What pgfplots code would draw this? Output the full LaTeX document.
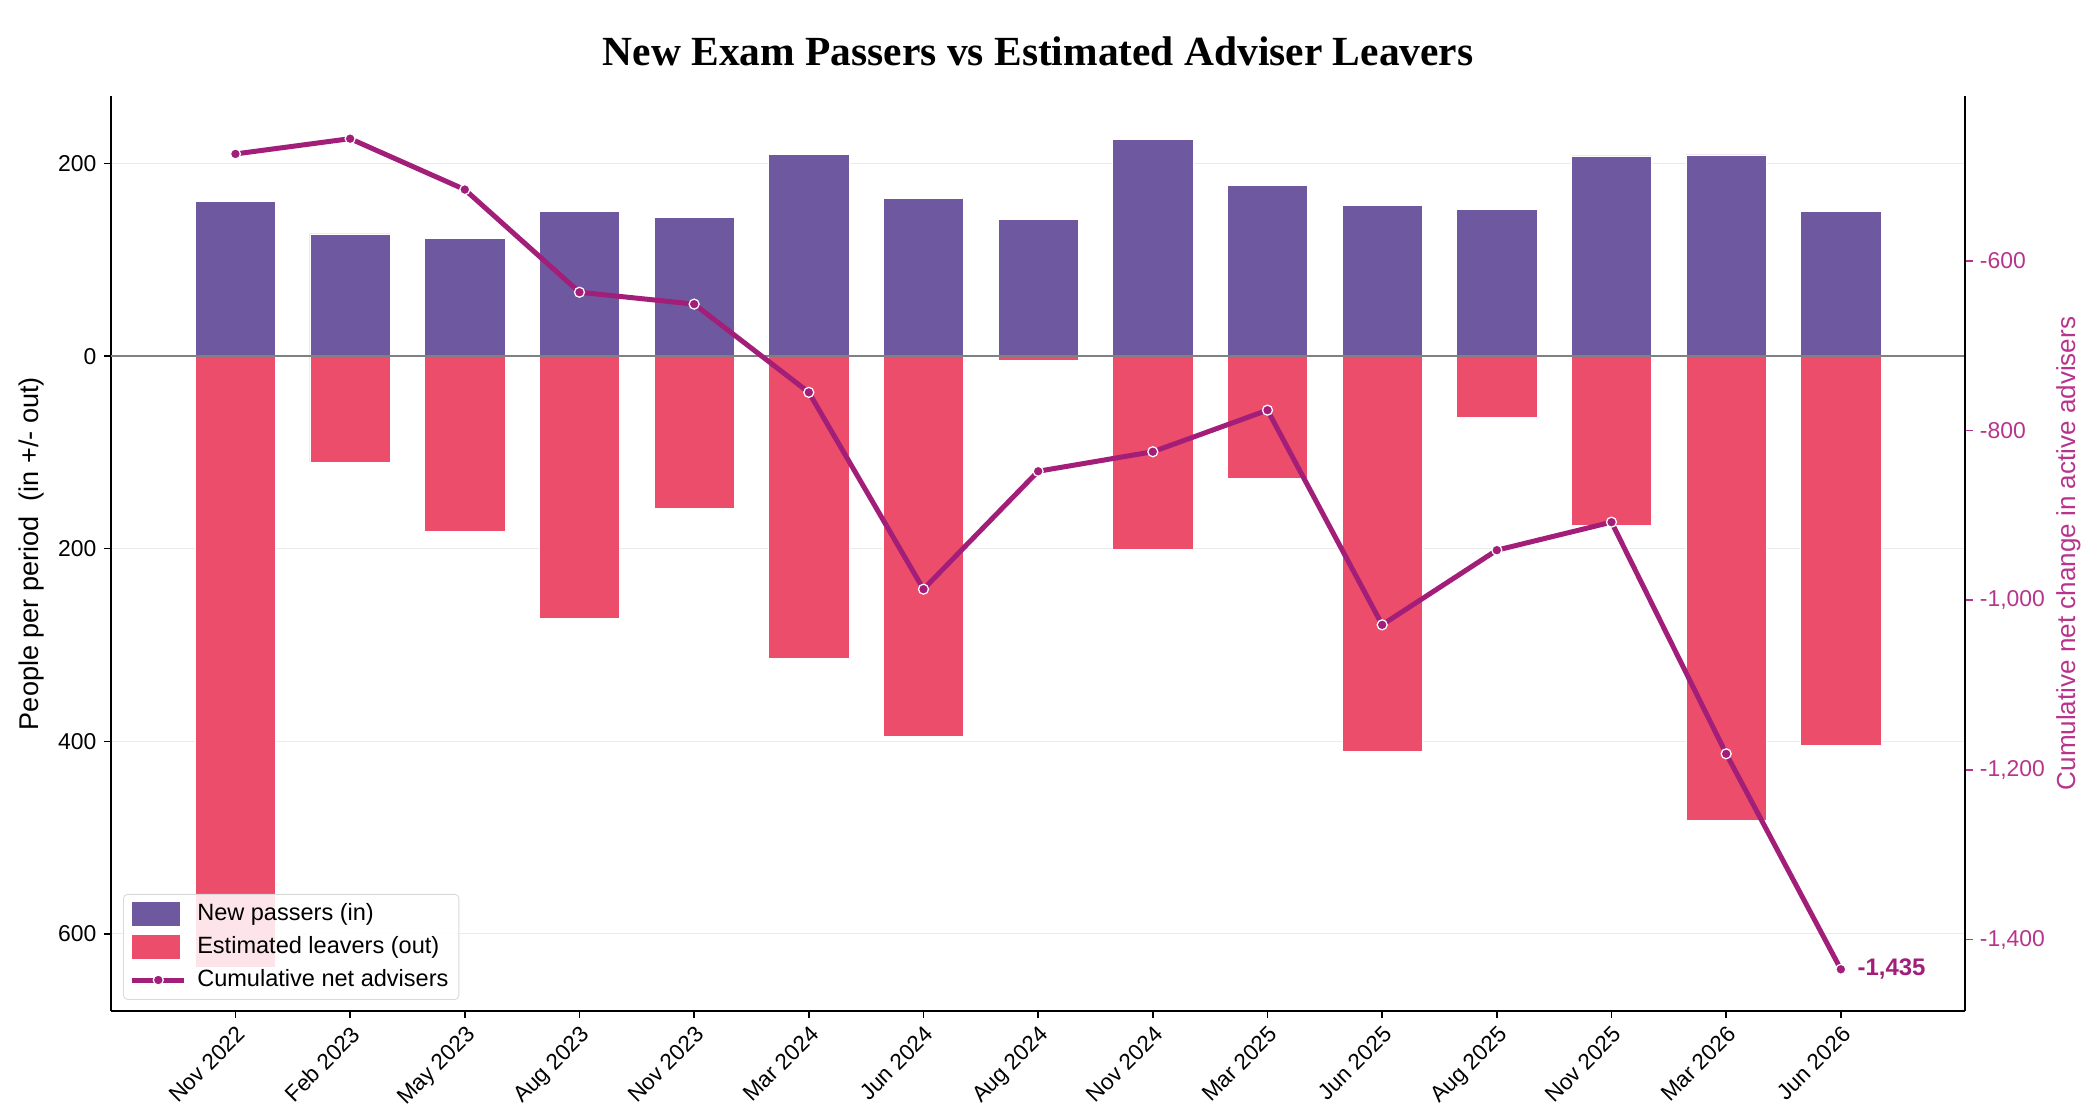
\documentclass[border=0pt]{standalone}
\usepackage{pgfplots}
\pgfplotsset{compat=1.18}
\usepackage{fontspec}
\setmainfont{Liberation Sans}
\newfontfamily\titlefont{Liberation Serif}
\definecolor{passers}{HTML}{6E59A0}
\definecolor{leavers}{HTML}{EC4D6A}
\definecolor{cum}{HTML}{A21E78}
\definecolor{cumtext}{HTML}{B8348C}
\definecolor{gridc}{HTML}{EBEBEB}
\pgfplotsset{
  cumleg/.style={legend image code/.code={\draw[mark repeat=2, mark phase=2, ##1, sharp corners, fill opacity=1, draw opacity=1] plot coordinates {(0pt,0pt) (12.5pt,0pt) (25pt,0pt)};}},
  passleg/.style={legend image code/.code={\fill[passers, sharp corners, fill opacity=1] (0pt,-5.5pt) rectangle (22.5pt,5.5pt);}},
  leavleg/.style={legend image code/.code={\fill[leavers, sharp corners, fill opacity=1] (0pt,-5.5pt) rectangle (22.5pt,5.5pt);}},
}
\begin{document}
\begin{tikzpicture}
\useasboundingbox (-53.3pt,-51.4pt) rectangle (951.8pt,485.2pt);
% ---------- left axis: bars ----------
\begin{axis}[
  at={(0,0)}, anchor=south west, scale only axis,
  width=890pt, height=439pt,
  xmin=-1.085, xmax=15.085, ymin=-680, ymax=270,
  axis x line*=bottom, axis y line*=left,
  axis line style={black, line width=0.9pt},
  xtick={0,...,14},
  xticklabels={Nov 2022,Feb 2023,May 2023,Aug 2023,Nov 2023,Mar 2024,Jun 2024,Aug 2024,Nov 2024,Mar 2025,Jun 2025,Aug 2025,Nov 2025,Mar 2026,Jun 2026},
  x tick label style={rotate=45, anchor=north east, font=\fontsize{10.8}{12}\selectfont, inner sep=2pt},
  ytick={-600,-400,-200,0,200},
  yticklabels={600,400,200,0,200},
  y tick label style={font=\fontsize{11}{13}\selectfont},
  tick align=outside, major tick length=3.5pt,
  tick style={black, line width=0.7pt},
  ymajorgrids, grid style={gridc, line width=0.6pt},
  clip=false,
]
\addplot[ybar, bar width=0.7, bar shift=0pt, fill=passers, draw=white, line width=0.4pt]
  coordinates {(0,161) (1,127) (2,122) (3,150) (4,144) (5,210) (6,164) (7,142) (8,225) (9,177) (10,157) (11,152) (12,208) (13,209) (14,150)};
\addplot[ybar, bar width=0.7, bar shift=0pt, fill=leavers, draw=white, line width=0.4pt]
  coordinates {(0,-635) (1,-110) (2,-182) (3,-272) (4,-158) (5,-314) (6,-395) (7,-4) (8,-201) (9,-127) (10,-411) (11,-64) (12,-176) (13,-482) (14,-404)};
\addplot[gray, line width=1.2pt, forget plot] coordinates {(-1.085,0) (15.085,0)};
\end{axis}
% ---------- right axis: cumulative line ----------
\begin{axis}[
  at={(0,0)}, anchor=south west, scale only axis,
  width=890pt, height=439pt,
  xmin=-1.085, xmax=15.085, ymin=-1484, ymax=-406,
  axis x line=none, axis y line*=right,
  axis line style={black, line width=0.9pt},
  ytick={-1400,-1200,-1000,-800,-600},
  yticklabels={{-1,400},{-1,200},{-1,000},-800,-600},
  y tick label style={font=\fontsize{11}{13}\selectfont, text=cumtext},
  tick align=outside, major tick length=3.5pt,
  y tick style={cumtext, line width=0.7pt},
  clip=false,
  legend style={at={(0.0065,0.012)}, anchor=south west, draw=black!15, rounded corners=2pt,
    fill=white, fill opacity=0.85, text opacity=1, font=\fontsize{11.3}{13}\selectfont,
    inner xsep=3pt, inner ysep=2.5pt, row sep=2.2pt, column sep=3pt},
  legend cell align=left,
]
\addlegendimage{passleg}
\addlegendentry{New passers (in)}
\addlegendimage{leavleg}
\addlegendentry{Estimated leavers (out)}
\addplot[cum, line width=2.4pt, mark=*, mark size=2.4pt,
  mark options={fill=cum, draw=white, line width=0.6pt}, cumleg]
  coordinates {(0,-474) (1,-456) (2,-516) (3,-637) (4,-651) (5,-755) (6,-987) (7,-848) (8,-825) (9,-776) (10,-1029) (11,-941) (12,-908) (13,-1181) (14,-1435)};
\addlegendentry{Cumulative net advisers}
\node[anchor=west, text=cum, font=\bfseries\fontsize{11.5}{13}\selectfont] at (axis cs:14,-1435) [xshift=4.5pt] {-1,435};
\end{axis}
% ---------- titles and axis labels ----------
\node[font=\titlefont\bfseries\fontsize{19.9}{22}\selectfont] at (445pt,460.8pt) {New Exam Passers vs Estimated Adviser Leavers};
\node[rotate=90, font=\fontsize{13}{15}\selectfont] at (-38pt,219.5pt) {People per period\ \ (in +/- out)};
\node[rotate=90, text=cumtext, font=\fontsize{12.5}{15}\selectfont] at (939.5pt,219.5pt) {Cumulative net change in active advisers};
\end{tikzpicture}
\end{document}
